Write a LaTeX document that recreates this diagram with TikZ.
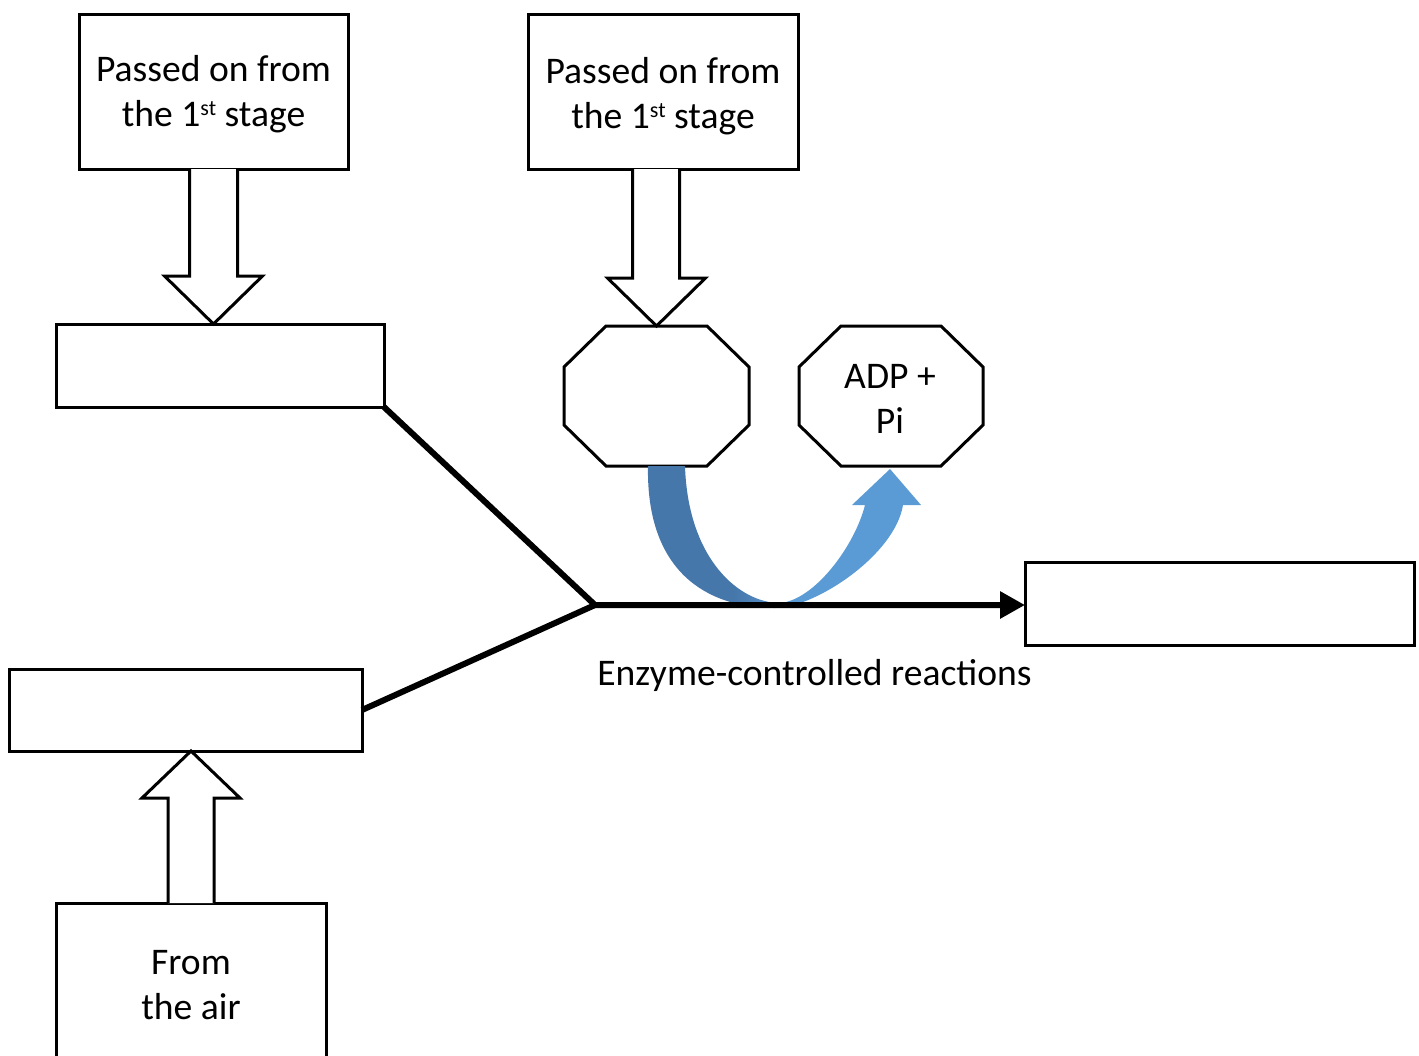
\documentclass[tikz,border=0pt]{standalone}
\usepackage{fontspec}
\setmainfont{Carlito}
\usetikzlibrary{arrows.meta,calc}
\definecolor{bD}{HTML}{4677AB}
\definecolor{bL}{HTML}{5B9BD5}
\pgfdeclarehorizontalshading{bluearc}{100bp}{color(0bp)=(bD); color(41bp)=(bD); color(51bp)=(bL); color(100bp)=(bL)}
\newcommand{\octagonpath}[1]{%
  \draw[octline] ($(#1.north west)+(42,0)$) -- ($(#1.north east)+(-42,0)$) -- ($(#1.north east)+(0,41)$) -- ($(#1.south east)+(0,-41)$) -- ($(#1.south east)+(-42,0)$) -- ($(#1.south west)+(42,0)$) -- ($(#1.south west)+(0,-41)$) -- ($(#1.north west)+(0,41)$) -- cycle;}
\newcommand{\stsup}{\raisebox{0.62ex}{\fontsize{11pt}{11pt}\selectfont st}}
\begin{document}
\begin{tikzpicture}[x=0.5pt,y=-0.5pt,
  txt/.style={font=\fontsize{18.8pt}{22.5pt}\selectfont,align=center},
  box/.style={txt,draw,line width=1.5pt,fill=white,inner sep=0pt,outer sep=0pt},
  octbox/.style={txt,inner sep=0pt,outer sep=0pt},
  octline/.style={draw,line width=1.5pt,fill=white,line join=miter},
  hollow/.style={draw,line width=1.5pt,fill=white,line join=miter},
  conn/.style={line width=3pt,line join=miter}]
\useasboundingbox (0,0) rectangle (1419,1055);

% boxes
\node[box,minimum width=134.5pt,minimum height=77.5pt] (b1) at (213.5,91.5) {};
\node[txt] (b1t) at (213.5,94) {Passed on from\\the 1\stsup\ stage};
\node[box,minimum width=135pt,minimum height=77.5pt] (b2) at (663,91.5) {};
\node[txt] (b2t) at (663,96) {Passed on from\\the 1\stsup\ stage};
\node[box,minimum width=164pt,minimum height=41.5pt] (b3) at (220,365.5) {};
\node[box,minimum width=176.5pt,minimum height=41pt] (b4) at (185.5,710) {};
\node[box,minimum width=135pt,minimum height=81pt] (b5) at (191,984) {};
\node[txt] (b5t) at (191,985) {From\\the air};
\node[box,minimum width=194.5pt,minimum height=41.5pt] (bR) at (1219.5,603.5) {};

% octagons
\node[octbox,minimum width=92.5pt,minimum height=70pt] (o1) at (656.5,396) {};
\octagonpath{o1}
\node[octbox,minimum width=92pt,minimum height=70pt] (o2) at (891,396) {};
\octagonpath{o2}
\node[txt] (o2t) at (890,399) {ADP +\\Pi};

% hollow block arrows
\begin{scope}[shift={(b1.south |- b3.north)}]
  \draw[hollow] (-24,-155) -- (-24,-48) -- (-49,-48) -- (0,0) -- (49,-48) -- (24,-48) -- (24,-155);
\end{scope}
\begin{scope}[shift={(o1.north)}]
  \draw[hollow] (-24,-157) -- (-24,-48) -- (-49,-48) -- (0,0) -- (49,-48) -- (23,-48) -- (23,-157);
\end{scope}
\begin{scope}[shift={(b5.north |- b4.south)}]
  \draw[hollow] (-23,152) -- (-23,47) -- (-49,47) -- (0,0) -- (49,47) -- (23,47) -- (23,152);
\end{scope}

% blue curved arrow
\shade[shading=bluearc]
  (648,466) .. controls (646,570) and (705,608) .. (775,608)
  .. controls (815,608) and (895,555) .. (903,505)
  -- (921,505) -- (890,469) -- (852,505) -- (865,505)
  .. controls (855,545) and (815,600) .. (780,603)
  .. controls (740,603) and (688,560) .. (685,466) -- cycle;

% connectors
\coordinate (J) at (595,605);
\draw[conn] (b4.east) -- (J);
\draw[conn,-{Triangle[length=12.5pt,width=13pt]}] (b3.south east) -- (J) -- (J -| bR.west);

\node[txt] (lbl) at (814.5,675) {Enzyme-controlled reactions};
\end{tikzpicture}
\end{document}
